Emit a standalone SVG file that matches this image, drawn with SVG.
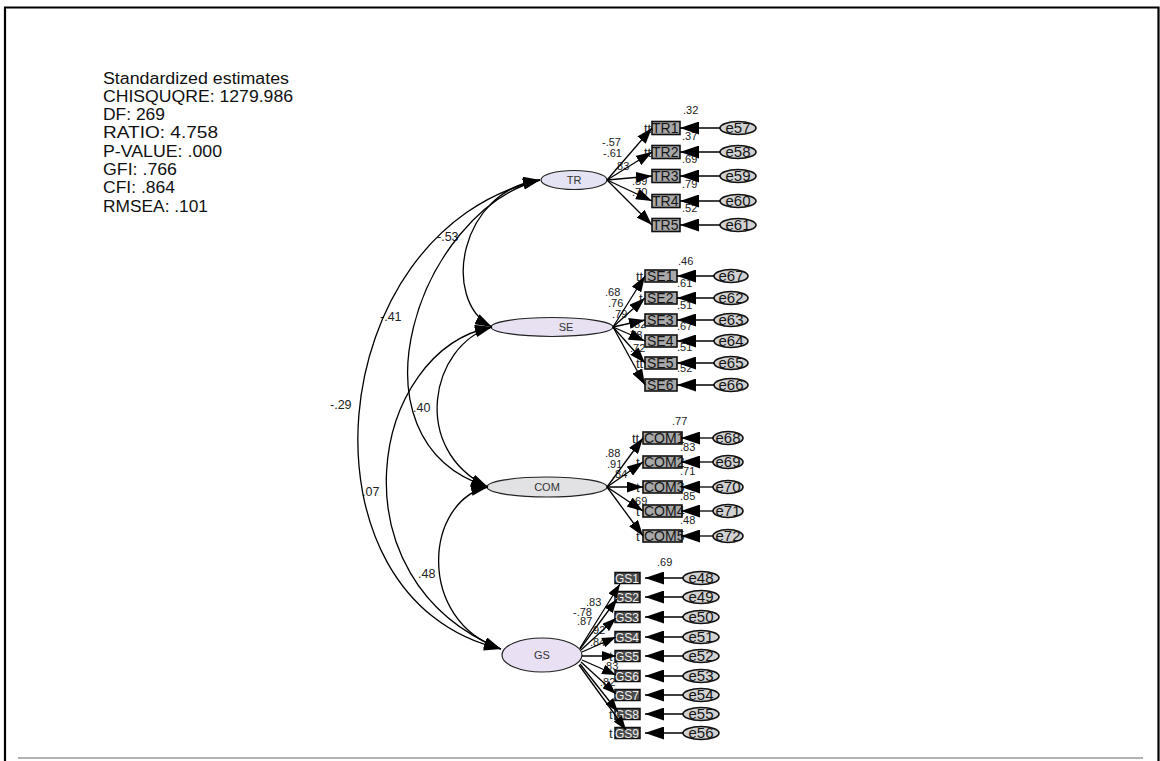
<svg xmlns="http://www.w3.org/2000/svg" width="1160" height="761" viewBox="0 0 1160 761">
<defs>
<style>
.t{font-family:"Liberation Sans",Arial,sans-serif;fill:#111}
.st{font-size:16px}
.est{font-family:"Liberation Sans",Arial,sans-serif;font-size:11px;fill:#222}
.cov{font-family:"Liberation Sans",Arial,sans-serif;font-size:12.5px;fill:#222}
.lat{font-family:"Liberation Sans",Arial,sans-serif;font-size:11px;fill:#333;text-anchor:middle}
.obs rect{fill:#a8a8a8;stroke:#111;stroke-width:1.6}
.gs rect{fill:#4a4a4a;stroke:#111;stroke-width:1.5}
.ot{font-family:"Liberation Sans",Arial,sans-serif;font-size:14px;fill:#151515}
.gt{font-family:"Liberation Sans",Arial,sans-serif;font-size:12px;fill:#f0f0f0}
.pre{font-family:"Liberation Sans",Arial,sans-serif;font-size:13px;fill:#222}
.err ellipse{fill:#d2d2d2;stroke:#111;stroke-width:1.6}
.et{font-family:"Liberation Sans",Arial,sans-serif;font-size:15px;fill:#151515;text-anchor:middle}
.ln{fill:none;stroke:#000;stroke-width:1.3}
.ld{marker-end:url(#ah)}
.ldg{marker-end:url(#ahs)}
.ee{marker-end:url(#ahe)}
.cv{marker-start:url(#ahc);marker-end:url(#ahc)}
</style>
<marker id="ah" markerUnits="userSpaceOnUse" viewBox="0 0 16 11" markerWidth="16" markerHeight="11" refX="16" refY="5.5" orient="auto"><path d="M0,0L16,5.5L0,11z" fill="#000"/></marker>
<marker id="ahs" markerUnits="userSpaceOnUse" viewBox="0 0 14 10" markerWidth="14" markerHeight="10" refX="14" refY="5" orient="auto"><path d="M0,0L14,5L0,10z" fill="#000"/></marker>
<marker id="ahe" markerUnits="userSpaceOnUse" viewBox="0 0 19 13" markerWidth="19" markerHeight="13" refX="19" refY="6.5" orient="auto"><path d="M0,0L19,6.5L0,13z" fill="#000"/></marker>
<marker id="ahc" markerUnits="userSpaceOnUse" viewBox="0 0 17 11" markerWidth="17" markerHeight="11" refX="17" refY="5.5" orient="auto-start-reverse"><path d="M0,0L17,5.5L0,11z" fill="#000"/></marker>
</defs>
<rect x="0" y="0" width="1160" height="761" fill="#fff"/>
<path d="M5,761V7.5H1158.5V761" fill="none" stroke="#000" stroke-width="2.2"/>
<line x1="18" y1="758" x2="1143" y2="758" stroke="#9a9a9a" stroke-width="1.6"/>

<g id="fit-stats" class="t st">
<text x="103" y="84" textLength="186" lengthAdjust="spacingAndGlyphs">Standardized estimates</text>
<text x="103" y="102" textLength="190" lengthAdjust="spacingAndGlyphs">CHISQUQRE: 1279.986</text>
<text x="103" y="120" textLength="62" lengthAdjust="spacingAndGlyphs">DF: 269</text>
<text x="103" y="138" textLength="115" lengthAdjust="spacingAndGlyphs">RATIO: 4.758</text>
<text x="103" y="157" textLength="119" lengthAdjust="spacingAndGlyphs">P-VALUE: .000</text>
<text x="103" y="175" textLength="74" lengthAdjust="spacingAndGlyphs">GFI: .766</text>
<text x="103" y="193" textLength="72" lengthAdjust="spacingAndGlyphs">CFI: .864</text>
<text x="103" y="212" textLength="105" lengthAdjust="spacingAndGlyphs">RMSEA: .101</text>
</g>

<!-- latent variables -->
<g id="TR"><ellipse cx="574" cy="180" rx="33" ry="9.5" fill="#e3e3f3" stroke="#222" stroke-width="1.2"/><text class="lat" x="574" y="184">TR</text></g>
<g id="SE"><ellipse cx="552" cy="327" rx="61" ry="9.5" fill="#e7e1f1" stroke="#222" stroke-width="1.2"/><text class="lat" x="566" y="331">SE</text></g>
<g id="COM"><ellipse cx="547" cy="487" rx="60" ry="10" fill="#e2e2e4" stroke="#222" stroke-width="1.2"/><text class="lat" x="547" y="491">COM</text></g>
<g id="GS"><ellipse cx="542" cy="655" rx="40" ry="17" fill="#e9e0f3" stroke="#222" stroke-width="1.2"/><text class="lat" x="542" y="659">GS</text></g>

<!-- TR indicators -->
<g id="TR1" class="obs"><text class="pre" x="644" y="133">tt</text><rect x="652" y="121.5" width="28" height="13"/><text class="ot" x="652" y="133">TR1</text></g>
<g id="TR2" class="obs"><text class="pre" x="644" y="157">tt</text><rect x="652" y="145.5" width="28" height="13"/><text class="ot" x="652" y="157">TR2</text></g>
<g id="TR3" class="obs"><rect x="652" y="169.5" width="28" height="13"/><text class="ot" x="652" y="181">TR3</text></g>
<g id="TR4" class="obs"><rect x="652" y="194.5" width="28" height="13"/><text class="ot" x="652" y="206">TR4</text></g>
<g id="TR5" class="obs"><rect x="652" y="218.5" width="28" height="13"/><text class="ot" x="652" y="230">TR5</text></g>
<g id="e57" class="err"><ellipse cx="738" cy="128" rx="18" ry="6.5"/><text class="et" x="738" y="133">e57</text></g>
<g id="e58" class="err"><ellipse cx="738" cy="152" rx="18" ry="6.5"/><text class="et" x="738" y="157">e58</text></g>
<g id="e59" class="err"><ellipse cx="738" cy="176" rx="18" ry="6.5"/><text class="et" x="738" y="181">e59</text></g>
<g id="e60" class="err"><ellipse cx="738" cy="201" rx="18" ry="6.5"/><text class="et" x="738" y="206">e60</text></g>
<g id="e61" class="err"><ellipse cx="738" cy="225" rx="18" ry="6.5"/><text class="et" x="738" y="230">e61</text></g>

<!-- SE indicators -->
<g id="SE1" class="obs"><text class="pre" x="636" y="281">tt</text><rect x="645" y="270" width="32" height="12"/><text class="ot" x="647" y="281">SE1</text></g>
<g id="SE2" class="obs"><text class="pre" x="639" y="303">t</text><rect x="645" y="292" width="32" height="12"/><text class="ot" x="647" y="303">SE2</text></g>
<g id="SE3" class="obs"><rect x="645" y="314" width="32" height="12"/><text class="ot" x="647" y="325">SE3</text></g>
<g id="SE4" class="obs"><rect x="645" y="335" width="32" height="12"/><text class="ot" x="647" y="346">SE4</text></g>
<g id="SE5" class="obs"><text class="pre" x="636" y="368">tt</text><rect x="645" y="357" width="32" height="12"/><text class="ot" x="647" y="368">SE5</text></g>
<g id="SE6" class="obs"><rect x="645" y="379" width="32" height="12"/><text class="ot" x="647" y="390">SE6</text></g>
<g id="e67" class="err"><ellipse cx="731" cy="276" rx="17" ry="6.5"/><text class="et" x="731" y="281">e67</text></g>
<g id="e62" class="err"><ellipse cx="731" cy="298" rx="17" ry="6.5"/><text class="et" x="731" y="303">e62</text></g>
<g id="e63" class="err"><ellipse cx="731" cy="320" rx="17" ry="6.5"/><text class="et" x="731" y="325">e63</text></g>
<g id="e64" class="err"><ellipse cx="731" cy="341" rx="17" ry="6.5"/><text class="et" x="731" y="346">e64</text></g>
<g id="e65" class="err"><ellipse cx="731" cy="363" rx="17" ry="6.5"/><text class="et" x="731" y="368">e65</text></g>
<g id="e66" class="err"><ellipse cx="731" cy="385" rx="17" ry="6.5"/><text class="et" x="731" y="390">e66</text></g>

<!-- COM indicators -->
<g id="COM1" class="obs"><text class="pre" x="632" y="443">tt</text><rect x="643" y="432" width="39" height="12"/><text class="ot" x="644" y="443">COM1</text></g>
<g id="COM2" class="obs"><text class="pre" x="636" y="467">t</text><rect x="643" y="456" width="39" height="12"/><text class="ot" x="644" y="467">COM2</text></g>
<g id="COM3" class="obs"><text class="pre" x="636" y="492">t</text><rect x="643" y="481" width="39" height="12"/><text class="ot" x="644" y="492">COM3</text></g>
<g id="COM4" class="obs"><text class="pre" x="636" y="516">t</text><rect x="643" y="505" width="39" height="12"/><text class="ot" x="644" y="516">COM4</text></g>
<g id="COM5" class="obs"><text class="pre" x="636" y="541">t</text><rect x="643" y="530" width="39" height="12"/><text class="ot" x="644" y="541">COM5</text></g>
<g id="e68" class="err"><ellipse cx="728" cy="438" rx="15" ry="6.5"/><text class="et" x="728" y="443">e68</text></g>
<g id="e69" class="err"><ellipse cx="728" cy="462" rx="15" ry="6.5"/><text class="et" x="728" y="467">e69</text></g>
<g id="e70" class="err"><ellipse cx="728" cy="487" rx="15" ry="6.5"/><text class="et" x="728" y="492">e70</text></g>
<g id="e71" class="err"><ellipse cx="728" cy="511" rx="15" ry="6.5"/><text class="et" x="728" y="516">e71</text></g>
<g id="e72" class="err"><ellipse cx="728" cy="536" rx="15" ry="6.5"/><text class="et" x="728" y="541">e72</text></g>

<!-- GS indicators -->
<g id="GS1" class="gs"><rect x="615" y="572.5" width="25" height="11"/><text class="gt" x="615" y="583">GS1</text></g>
<g id="GS2" class="gs"><rect x="615" y="591.5" width="25" height="11"/><text class="gt" x="615" y="602">GS2</text></g>
<g id="GS3" class="gs"><rect x="615" y="611.5" width="25" height="11"/><text class="gt" x="615" y="622">GS3</text></g>
<g id="GS4" class="gs"><rect x="615" y="631.5" width="25" height="11"/><text class="gt" x="615" y="642">GS4</text></g>
<g id="GS5" class="gs"><text class="pre" x="609" y="661">t</text><rect x="615" y="650.5" width="25" height="11"/><text class="gt" x="615" y="661">GS5</text></g>
<g id="GS6" class="gs"><rect x="615" y="670.5" width="25" height="11"/><text class="gt" x="615" y="681">GS6</text></g>
<g id="GS7" class="gs"><rect x="615" y="689.5" width="25" height="11"/><text class="gt" x="615" y="700">GS7</text></g>
<g id="GS8" class="gs"><text class="pre" x="609" y="719">t</text><rect x="615" y="708.5" width="25" height="11"/><text class="gt" x="615" y="719">GS8</text></g>
<g id="GS9" class="gs"><text class="pre" x="609" y="738">t</text><rect x="615" y="727.5" width="25" height="11"/><text class="gt" x="615" y="738">GS9</text></g>
<g id="e48" class="err"><ellipse cx="701" cy="578" rx="18" ry="6.5"/><text class="et" x="701" y="583">e48</text></g>
<g id="e49" class="err"><ellipse cx="701" cy="597" rx="18" ry="6.5"/><text class="et" x="701" y="602">e49</text></g>
<g id="e50" class="err"><ellipse cx="701" cy="617" rx="18" ry="6.5"/><text class="et" x="701" y="622">e50</text></g>
<g id="e51" class="err"><ellipse cx="701" cy="637" rx="18" ry="6.5"/><text class="et" x="701" y="642">e51</text></g>
<g id="e52" class="err"><ellipse cx="701" cy="656" rx="18" ry="6.5"/><text class="et" x="701" y="661">e52</text></g>
<g id="e53" class="err"><ellipse cx="701" cy="676" rx="18" ry="6.5"/><text class="et" x="701" y="681">e53</text></g>
<g id="e54" class="err"><ellipse cx="701" cy="695" rx="18" ry="6.5"/><text class="et" x="701" y="700">e54</text></g>
<g id="e55" class="err"><ellipse cx="701" cy="714" rx="18" ry="6.5"/><text class="et" x="701" y="719">e55</text></g>
<g id="e56" class="err"><ellipse cx="701" cy="733" rx="18" ry="6.5"/><text class="et" x="701" y="738">e56</text></g>

<!-- estimate labels -->
<g id="estimates">
<text class="est" x="683" y="114">.32</text>
<text class="est" x="682" y="140">.37</text>
<text class="est" x="682" y="163">.69</text>
<text class="est" x="682" y="188">.79</text>
<text class="est" x="682" y="212">.52</text>
<text class="est" x="602" y="146">-.57</text>
<text class="est" x="603" y="157">-.61</text>
<text class="est" x="614" y="170">.83</text>
<text class="est" x="632" y="185">.89</text>
<text class="est" x="632" y="196">.70</text>

<text class="est" x="678" y="265">.46</text>
<text class="est" x="677" y="287">.61</text>
<text class="est" x="677" y="309">.51</text>
<text class="est" x="677" y="330">.67</text>
<text class="est" x="677" y="351">.51</text>
<text class="est" x="677" y="372">.52</text>
<text class="est" x="605" y="296">.68</text>
<text class="est" x="608" y="307">.76</text>
<text class="est" x="612" y="318">.79</text>
<text class="est" x="631" y="328">.82</text>
<text class="est" x="627" y="339">.78</text>
<text class="est" x="630" y="352">.72</text>

<text class="est" x="672" y="425">.77</text>
<text class="est" x="680" y="451">.83</text>
<text class="est" x="680" y="475">.71</text>
<text class="est" x="680" y="500">.85</text>
<text class="est" x="680" y="524">.48</text>
<text class="est" x="605" y="457">.88</text>
<text class="est" x="607" y="468">.91</text>
<text class="est" x="612" y="478">.84</text>
<text class="est" x="632" y="505">.69</text>

<text class="est" x="657" y="566">.69</text>
<text class="est" x="586" y="606">.83</text>
<text class="est" x="573" y="616">-.78</text>
<text class="est" x="577" y="625">.87</text>
<text class="est" x="590" y="634">.92</text>
<text class="est" x="590" y="646">.84</text>
<text class="est" x="603" y="670">.83</text>
<text class="est" x="600" y="686">.82</text>

<text class="cov" x="437" y="241">-.53</text>
<text class="cov" x="380" y="321">-.41</text>
<text class="cov" x="330" y="409">-.29</text>
<text class="cov" x="413" y="412">.40</text>
<text class="cov" x="362" y="496">.07</text>
<text class="cov" x="418" y="578">.48</text>
</g>

<g id="connectors">
<!-- covariances -->
<path class="ln cv" d="M540,180 C460,190 440,300 492,327"/>
<path class="ln cv" d="M540,180 C420,210 340,440 488,487"/>
<path class="ln cv" d="M540,180 C320,230 290,600 501,649"/>
<path class="ln cv" d="M492,327 C430,345 410,450 488,487"/>
<path class="ln cv" d="M492,327 C370,350 330,580 501,649"/>
<path class="ln cv" d="M488,487 C425,500 415,620 501,649"/>
<!-- TR loadings -->
<line class="ln ld" x1="607" y1="180" x2="652" y2="128"/>
<line class="ln ld" x1="607" y1="180" x2="652" y2="152"/>
<line class="ln ld" x1="607" y1="180" x2="652" y2="176"/>
<line class="ln ld" x1="607" y1="180" x2="652" y2="201"/>
<line class="ln ld" x1="607" y1="180" x2="652" y2="225"/>
<line class="ln ee" x1="720" y1="128" x2="680" y2="128"/>
<line class="ln ee" x1="720" y1="152" x2="680" y2="152"/>
<line class="ln ee" x1="720" y1="176" x2="680" y2="176"/>
<line class="ln ee" x1="720" y1="201" x2="680" y2="201"/>
<line class="ln ee" x1="720" y1="225" x2="680" y2="225"/>
<!-- SE loadings -->
<line class="ln ld" x1="613" y1="327" x2="645" y2="276"/>
<line class="ln ld" x1="613" y1="327" x2="645" y2="298"/>
<line class="ln ld" x1="613" y1="327" x2="645" y2="320"/>
<line class="ln ld" x1="613" y1="327" x2="645" y2="341"/>
<line class="ln ld" x1="613" y1="327" x2="645" y2="363"/>
<line class="ln ld" x1="613" y1="327" x2="645" y2="385"/>
<line class="ln ee" x1="714" y1="276" x2="677" y2="276"/>
<line class="ln ee" x1="714" y1="298" x2="677" y2="298"/>
<line class="ln ee" x1="714" y1="320" x2="677" y2="320"/>
<line class="ln ee" x1="714" y1="341" x2="677" y2="341"/>
<line class="ln ee" x1="714" y1="363" x2="677" y2="363"/>
<line class="ln ee" x1="714" y1="385" x2="677" y2="385"/>
<!-- COM loadings -->
<line class="ln ld" x1="607" y1="487" x2="643" y2="438"/>
<line class="ln ld" x1="607" y1="487" x2="643" y2="462"/>
<line class="ln ld" x1="607" y1="487" x2="643" y2="487"/>
<line class="ln ld" x1="607" y1="487" x2="643" y2="511"/>
<line class="ln ld" x1="607" y1="487" x2="643" y2="536"/>
<line class="ln ee" x1="713" y1="438" x2="681" y2="438"/>
<line class="ln ee" x1="713" y1="462" x2="681" y2="462"/>
<line class="ln ee" x1="713" y1="487" x2="681" y2="487"/>
<line class="ln ee" x1="713" y1="511" x2="681" y2="511"/>
<line class="ln ee" x1="713" y1="536" x2="681" y2="536"/>
<!-- GS loadings -->
<line class="ln ldg" x1="580" y1="648" x2="620" y2="584"/>
<line class="ln ldg" x1="580" y1="649" x2="617" y2="599"/>
<line class="ln ldg" x1="581" y1="650" x2="616" y2="618"/>
<line class="ln ldg" x1="582" y1="652" x2="616" y2="637"/>
<line class="ln ldg" x1="582" y1="656" x2="616" y2="656"/>
<line class="ln ldg" x1="582" y1="660" x2="616" y2="675"/>
<line class="ln ldg" x1="581" y1="662" x2="616" y2="694"/>
<line class="ln ldg" x1="580" y1="664" x2="618" y2="712"/>
<line class="ln ldg" x1="579" y1="665" x2="626" y2="730"/>
<line class="ln ee" x1="683" y1="578" x2="645" y2="578"/>
<line class="ln ee" x1="683" y1="597" x2="645" y2="597"/>
<line class="ln ee" x1="683" y1="617" x2="645" y2="617"/>
<line class="ln ee" x1="683" y1="637" x2="645" y2="637"/>
<line class="ln ee" x1="683" y1="656" x2="645" y2="656"/>
<line class="ln ee" x1="683" y1="676" x2="645" y2="676"/>
<line class="ln ee" x1="683" y1="695" x2="645" y2="695"/>
<line class="ln ee" x1="683" y1="714" x2="645" y2="714"/>
<line class="ln ee" x1="683" y1="733" x2="645" y2="733"/>
</g>
</svg>
